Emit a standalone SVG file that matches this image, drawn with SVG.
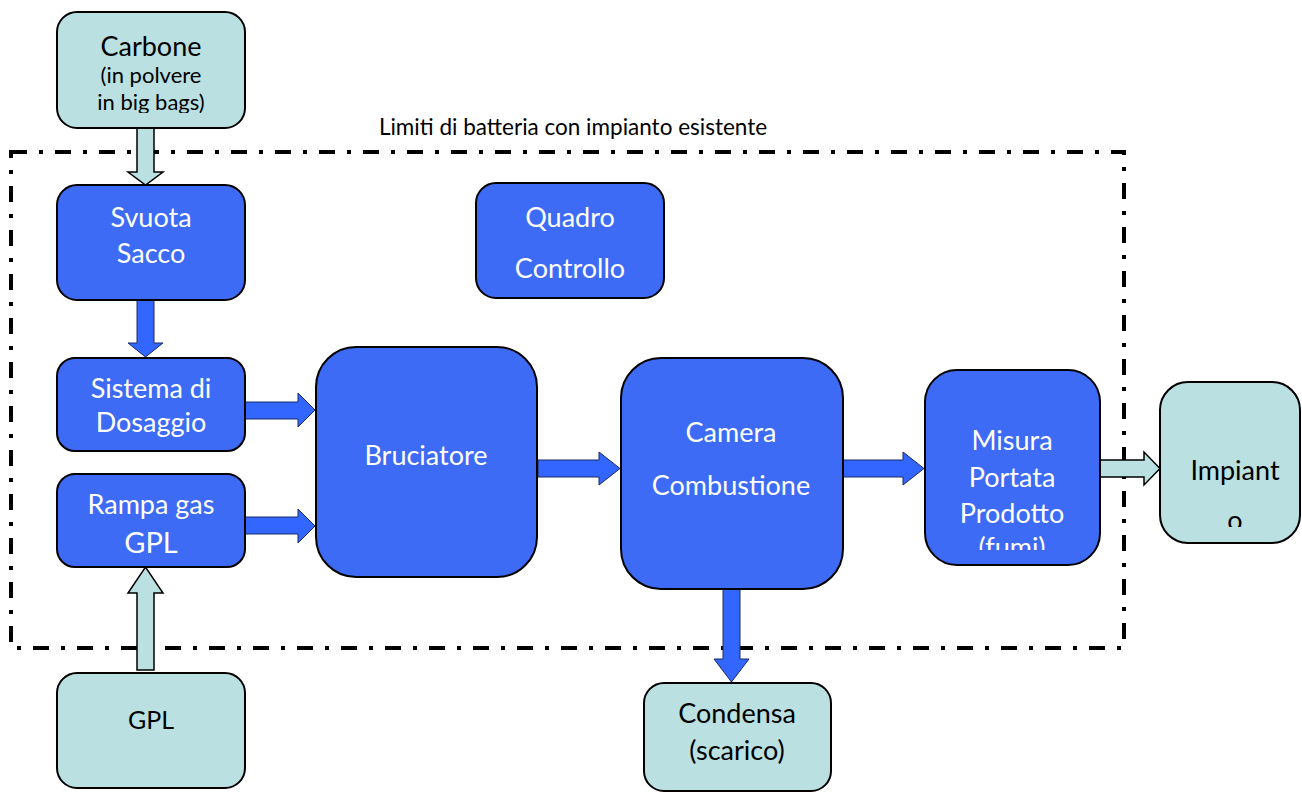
<svg xmlns="http://www.w3.org/2000/svg" width="1302" height="793" viewBox="0 0 1302 793">
  <style>
    .ext { fill: #BBE0E1; stroke: #000; stroke-width: 2; }
    .blk { fill: #3D6BF5; stroke: #000; stroke-width: 2; }
    .arr-ext { fill: #BBE0E1; stroke: #000; stroke-width: 1.5; }
    .arr-blk { fill: #3366FF; stroke: #1a2a66; stroke-width: 1; }
    .limit { fill: none; stroke: #000; stroke-width: 4; stroke-dasharray: 16 12 4 12; }
    text { font-family: Lato, "Liberation Sans", sans-serif; text-anchor: middle; }
    .tw { fill: #fff; font-size: 27px; }
    .tb { fill: #000; font-size: 27px; }
    .ts { font-size: 22px; }
    .lbl { fill: #000; font-size: 22.5px; }
  </style>
  <defs>
    <clipPath id="clip-carbone"><rect x="57" y="12" width="188" height="101"/></clipPath>
    <clipPath id="clip-misura"><rect x="925" y="370" width="175" height="180"/></clipPath>
    <clipPath id="clip-impianto"><rect x="1160" y="382" width="142" height="145"/></clipPath>
  </defs>

  <!-- battery limits boundary -->
  <rect class="limit" x="11" y="152" width="1113" height="496"/>
  <text class="lbl" x="573" y="135">Limiti di batteria con impianto esistente</text>

  <g id="connectors">
    <!-- Carbone -> Svuota Sacco -->
    <path class="arr-ext" d="M137,128 H154 V172 H163 L145.5,185 L128,172 H137 Z"/>
    <!-- Svuota Sacco -> Sistema di Dosaggio -->
    <path class="arr-blk" d="M137,300 H154 V343 H163 L145.5,357 L128,343 H137 Z"/>
    <!-- GPL -> Rampa gas -->
    <path class="arr-ext" d="M137,670 H154 V593 H163 L145.5,567 L128,593 H137 Z"/>
    <!-- Sistema di Dosaggio -> Bruciatore -->
    <path class="arr-blk" d="M245,402 H298 V393 L315,410 L298,427 V419 H245 Z"/>
    <!-- Rampa gas -> Bruciatore -->
    <path class="arr-blk" d="M245,517 H298 V509 L315,526 L298,543 V534 H245 Z"/>
    <!-- Bruciatore -> Camera Combustione -->
    <path class="arr-blk" d="M538,460 H599 V452 L620,468.5 L599,485 V477 H538 Z"/>
    <!-- Camera Combustione -> Misura -->
    <path class="arr-blk" d="M843,460 H903 V452 L924,468.5 L903,485 V477 H843 Z"/>
    <!-- Misura -> Impianto -->
    <path class="arr-ext" d="M1100,460 H1144 V452 L1160,468.5 L1144,485 V477 H1100 Z"/>
    <!-- Camera Combustione -> Condensa -->
    <path class="arr-blk" d="M723,589 H740 V659 H749 L731.5,682 L714,659 H723 Z"/>
  </g>

  <g id="carbone">
    <rect class="ext" x="57" y="12" width="188" height="116" rx="20"/>
    <g clip-path="url(#clip-carbone)">
      <text class="tb" x="151" y="56">Carbone</text>
      <text class="tb ts" x="151" y="83">(in polvere</text>
      <text class="tb ts" x="151" y="110">in big bags)</text>
    </g>
  </g>

  <g id="svuota-sacco">
    <rect class="blk" x="57" y="185" width="188" height="115" rx="20"/>
    <text class="tw" x="151" y="227">Svuota</text>
    <text class="tw" x="151" y="263">Sacco</text>
  </g>

  <g id="quadro-controllo">
    <rect class="blk" x="476" y="183" width="188" height="115" rx="20"/>
    <text class="tw" x="570" y="227">Quadro</text>
    <text class="tw" x="570" y="278">Controllo</text>
  </g>

  <g id="sistema-dosaggio">
    <rect class="blk" x="57" y="358" width="188" height="93" rx="18"/>
    <text class="tw" x="151" y="398">Sistema di</text>
    <text class="tw" x="151" y="432">Dosaggio</text>
  </g>

  <g id="rampa-gas">
    <rect class="blk" x="57" y="474" width="188" height="93" rx="18"/>
    <text class="tw" x="151" y="514">Rampa gas</text>
    <text class="tw" x="151" y="553" style="font-size:29px">GPL</text>
  </g>

  <g id="gpl">
    <rect class="ext" x="57" y="673" width="188" height="115" rx="20"/>
    <text class="tb" x="151" y="729" style="font-size:25px">GPL</text>
  </g>

  <g id="bruciatore">
    <rect class="blk" x="316" y="347" width="221" height="230" rx="40"/>
    <text class="tw" x="426" y="465">Bruciatore</text>
  </g>

  <g id="camera-combustione">
    <rect class="blk" x="621" y="358" width="222" height="231" rx="40"/>
    <text class="tw" x="731" y="442">Camera</text>
    <text class="tw" x="731" y="495">Combustione</text>
  </g>

  <g id="misura-portata">
    <rect class="blk" x="925" y="370" width="175" height="195" rx="32"/>
    <g clip-path="url(#clip-misura)">
      <text class="tw" x="1012" y="450">Misura</text>
      <text class="tw" x="1012" y="487">Portata</text>
      <text class="tw" x="1012" y="523">Prodotto</text>
      <text class="tw" x="1012" y="557">(fumi)</text>
    </g>
  </g>

  <g id="impianto">
    <rect class="ext" x="1160" y="382" width="140" height="161" rx="28"/>
    <g clip-path="url(#clip-impianto)">
      <text class="tb" x="1235" y="480">Impiant</text>
      <text class="tb" x="1235" y="530">o</text>
    </g>
  </g>

  <g id="condensa">
    <rect class="ext" x="644" y="683" width="187" height="108" rx="20"/>
    <text class="tb" x="737" y="723">Condensa</text>
    <text class="tb" x="737" y="760">(scarico)</text>
  </g>
</svg>
